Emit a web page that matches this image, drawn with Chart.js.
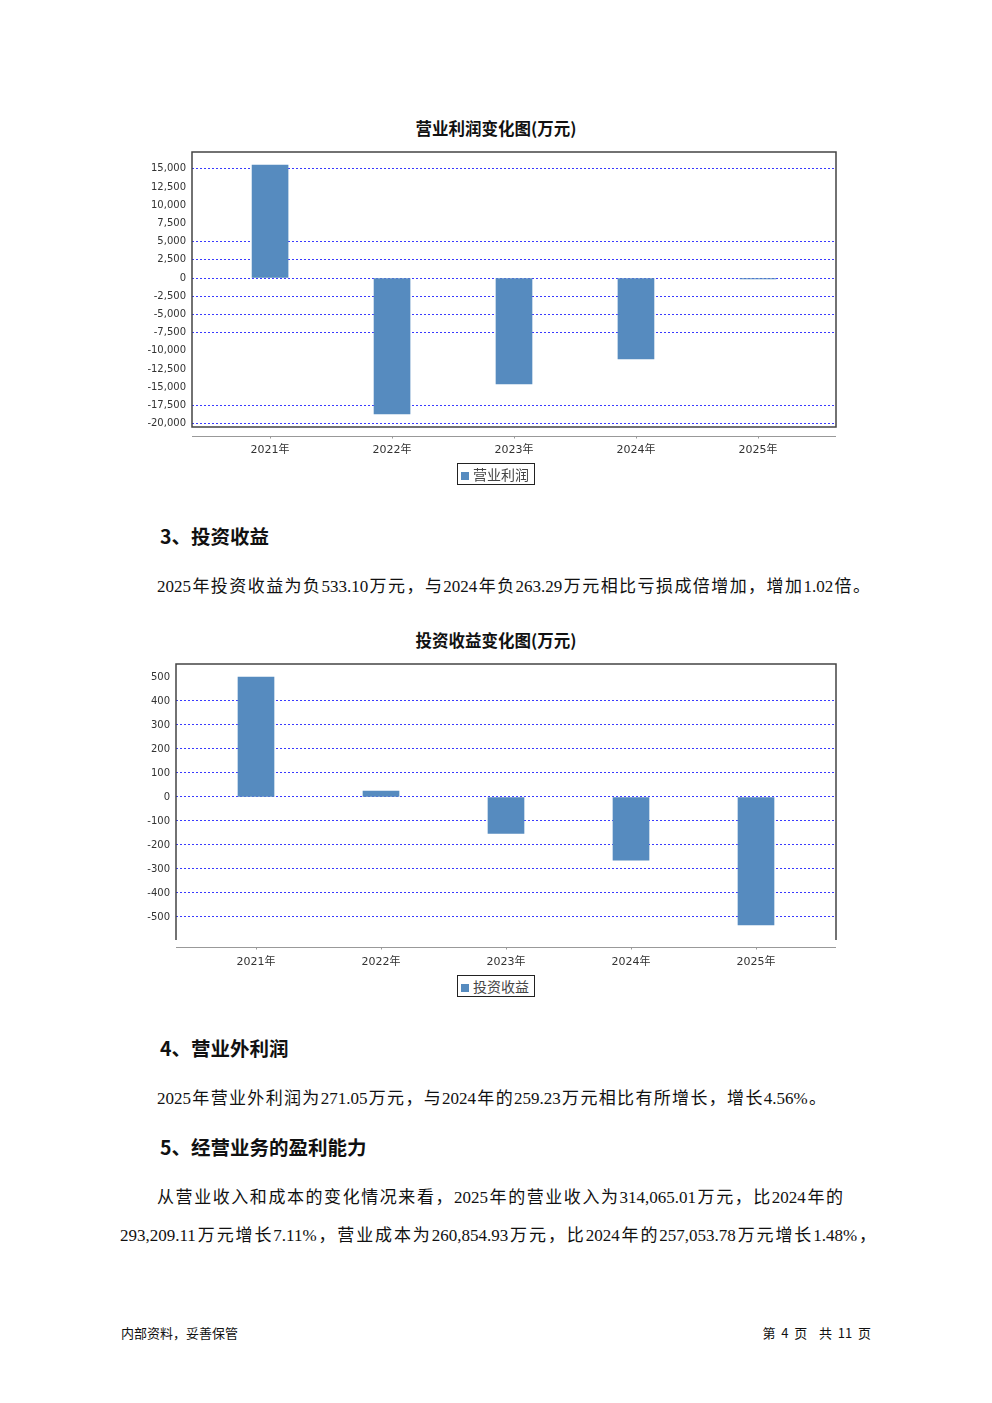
<!DOCTYPE html>
<html>
<head>
<meta charset="utf-8">
<script src="https://cdn.jsdelivr.net/npm/chart.js@4.4.1/dist/chart.umd.min.js"></script>
<style>
  body { margin: 0; background: #fff; }
  #page { position: relative; width: 992px; height: 1403px; background: #fff; overflow: hidden; }
  .abs { position: absolute; white-space: nowrap; }
  .title { font: bold 16.5px "Noto Sans CJK SC", sans-serif; color: #111; width: 992px; text-align: center; left: 0; line-height: 20px; }
  .head { font: bold 19.5px "Noto Sans CJK SC", sans-serif; color: #111; line-height: 24px; }
  .body { font: 17px "Liberation Serif", "Noto Sans CJK SC", serif; color: #111; line-height: 24px; text-align: justify; text-align-last: justify; }
  .foot { font: 13px "Noto Sans CJK SC", sans-serif; color: #111; line-height: 18px; }
  .legend { border: 1px solid #222; font: 14px "Noto Sans CJK SC", sans-serif; color: #444; box-sizing: border-box; }
  .legend i { display: inline-block; width: 8px; height: 8px; background: #568bbf; margin: 0 4px 0 3px; vertical-align: 0px; }
  canvas { position: absolute; }
</style>
</head>
<body>
<div id="page">
  <div class="abs title" style="top:118px">营业利润变化图(万元)</div>
  <canvas id="c1" width="710" height="320" style="left:140px;top:145px;width:710px;height:320px"></canvas>
  <div class="abs legend" style="left:457px;top:463px;width:78px;height:22px;line-height:20px"><i></i>营业利润</div>

  <div class="abs head" style="left:160px;top:524px">3、投资收益</div>
  <div class="abs body" style="left:157px;top:575px;width:713px">2025年投资收益为负533.10万元，与2024年负263.29万元相比亏损成倍增加，增加1.02倍。</div>

  <div class="abs title" style="top:630px">投资收益变化图(万元)</div>
  <canvas id="c2" width="730" height="320" style="left:120px;top:655px;width:730px;height:320px"></canvas>
  <div class="abs legend" style="left:457px;top:975px;width:78px;height:22px;line-height:20px"><i></i>投资收益</div>

  <div class="abs head" style="left:160px;top:1036px">4、营业外利润</div>
  <div class="abs body" style="left:157px;top:1087px;width:669px">2025年营业外利润为271.05万元，与2024年的259.23万元相比有所增长，增长4.56%。</div>

  <div class="abs head" style="left:160px;top:1135px">5、经营业务的盈利能力</div>
  <div class="abs body" style="left:157px;top:1186px;width:686px">从营业收入和成本的变化情况来看，2025年的营业收入为314,065.01万元，比2024年的</div>
  <div class="abs body" style="left:120px;top:1224px;width:756px">293,209.11万元增长7.11%，营业成本为260,854.93万元，比2024年的257,053.78万元增长1.48%，</div>

  <div class="abs foot" style="left:121px;top:1324px">内部资料，妥善保管</div>
  <div class="abs foot" style="left:741px;top:1324px;width:130px;text-align:right">第&nbsp;&nbsp;4&nbsp;&nbsp;页&nbsp;&nbsp;&nbsp;&nbsp;共&nbsp;&nbsp;11&nbsp;&nbsp;页</div>
</div>
<script>
// data
var years = ['2021年', '2022年', '2023年', '2024年', '2025年'];
var operatingProfit = [15500, -18650, -14550, -11120, -120];
var investIncome = [500, 25, -152, -263.29, -533.10];
var profitTicks = [15000, 12500, 10000, 7500, 5000, 2500, 0, -2500, -5000, -7500, -10000, -12500, -15000, -17500, -20000];
var investTicks = [500, 400, 300, 200, 100, 0, -100, -200, -300, -400, -500];

var barColor = '#568bbf';
var labelFont = { family: '"DejaVu Sans", "Noto Sans CJK SC", sans-serif', size: 10 };

// grid lines that actually show up in the original
var profitGridShown = [15000, 5000, 2500, 0, -2500, -5000, -7500, -17500, -20000];
var investGridShown = [400, 300, 200, 100, 0, -100, -200, -300, -400, -500];

// plot frame + separate category axis line underneath
var framePlugin = {
    id: 'frame',
    afterDraw: function(chart, args, opts) {
        var a = chart.chartArea, ctx = chart.ctx;
        ctx.save();
        ctx.strokeStyle = '#444';
        ctx.lineWidth = 1.5;
        ctx.beginPath();
        ctx.moveTo(a.left, a.bottom); ctx.lineTo(a.left, a.top); ctx.lineTo(a.right, a.top);
        ctx.lineTo(a.right, a.bottom);
        if (opts.bottom) ctx.closePath();
        ctx.stroke();
        var y = a.bottom + opts.gap + 0.5;
        ctx.strokeStyle = '#999';
        ctx.lineWidth = 1;
        ctx.beginPath();
        ctx.moveTo(a.left, y); ctx.lineTo(a.right, y);
        var xs = chart.scales.x;
        years.forEach(function(c, i) {
            var px = Math.round(xs.getPixelForValue(i)) + 0.5;
            ctx.moveTo(px, y); ctx.lineTo(px, y + 2);
        });
        ctx.stroke();
        ctx.restore();
    }
};

function makeChart(id, label, values, ticks, gridShown, yMin, yMax, pad, yWidth, xPad, frameOpts) {
    var ctx = document.getElementById(id).getContext('2d');
    return new Chart(ctx, {
        type: 'bar',
        data: {
            datasets: [{
                label: label,
                data: values.map(function(v, i) { return { x: i, y: v }; }),
                backgroundColor: barColor,
                borderWidth: 0,
                barThickness: 36
            }]
        },
        options: {
            responsive: false,
            animation: false,
            layout: { padding: pad },
            plugins: { legend: { display: false }, title: { display: false }, tooltip: { enabled: false }, frame: frameOpts },
            scales: {
                x: {
                    type: 'linear',
                    offset: false,
                    min: -0.64,
                    max: 4.64,
                    grid: { display: false, drawTicks: false },
                    border: { display: false },
                    afterBuildTicks: function(s) { s.ticks = years.map(function(c, i) { return { value: i }; }); },
                    afterFit: function(s) { s.height = 30; s.paddingLeft = 0; s.paddingRight = 0; },
                    ticks: {
                        autoSkip: false, maxRotation: 0, padding: xPad, color: '#333',
                        font: { family: labelFont.family, size: 11 },
                        callback: function(v) { return years[v]; }
                    }
                },
                y: {
                    min: yMin,
                    max: yMax,
                    afterBuildTicks: function(s) { s.ticks = ticks.map(function(v) { return { value: v }; }); },
                    afterFit: function(s) { s.width = yWidth; s.paddingTop = 0; s.paddingBottom = 0; },
                    grid: {
                        drawTicks: false,
                        lineWidth: 1,
                        color: function(c) { return c.tick && gridShown.indexOf(c.tick.value) >= 0 ? '#3a3aff' : 'rgba(0,0,0,0)'; }
                    },
                    border: { display: false, dash: [2, 2] },
                    ticks: {
                        padding: 6, color: '#333', font: labelFont,
                        callback: function(v) { return v.toLocaleString('en-US'); }
                    }
                }
            }
        },
        plugins: [framePlugin]
    });
}

makeChart('c1', '营业利润', operatingProfit, profitTicks, profitGridShown, -20450, 17300,
    { left: 0, top: 7, right: 14, bottom: 8 }, 52, 17, { bottom: true, gap: 9 });
makeChart('c2', '投资收益', investIncome, investTicks, investGridShown, -596, 554,
    { left: 0, top: 9, right: 14, bottom: 5 }, 56, 16, { bottom: false, gap: 7 });
</script>
</body>
</html>
